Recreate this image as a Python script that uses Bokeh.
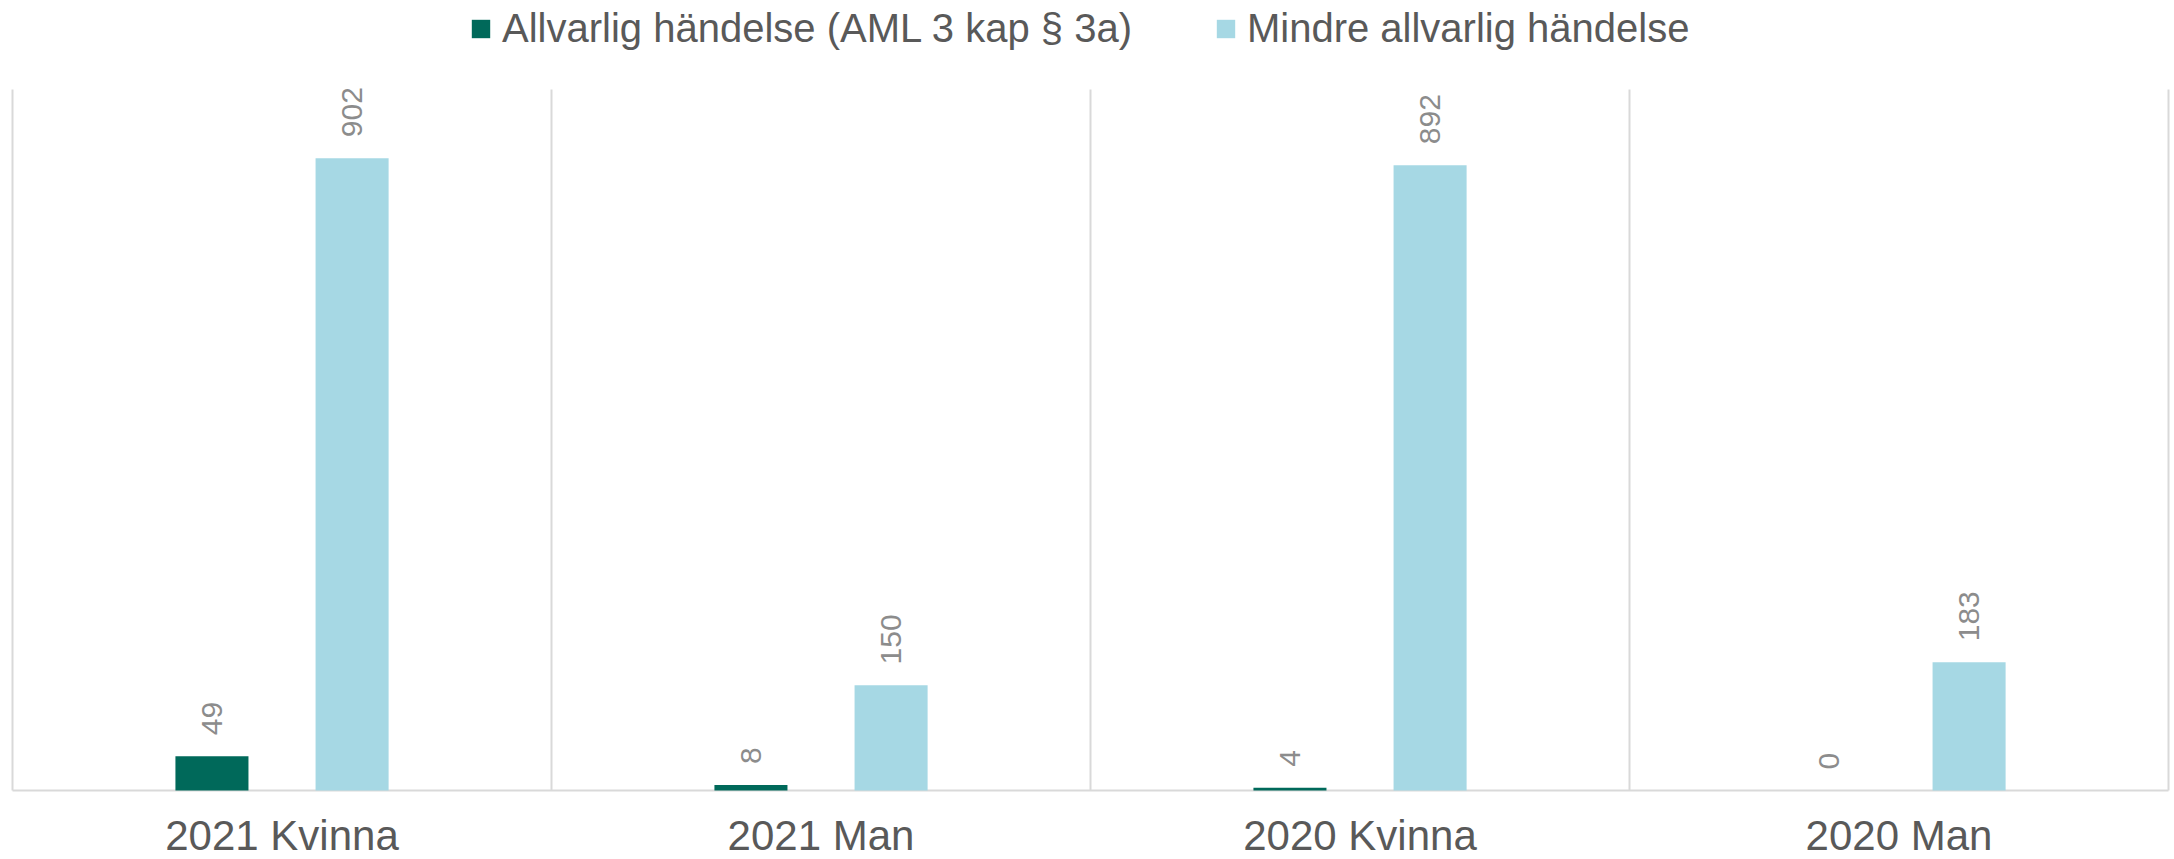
from bokeh.plotting import figure
from bokeh.models import (ColumnDataSource, FixedTicker, Legend, LegendItem, LabelSet, Range1d, Grid)
from bokeh.core.properties import value
from bokeh.transform import dodge
from bokeh.embed import file_html
from bokeh.resources import INLINE

categories = ["2021 Kvinna", "2021 Man", "2020 Kvinna", "2020 Man"]
series_names = ["Allvarlig händelse (AML 3 kap § 3a)", "Mindre allvarlig händelse"]
allvarlig = [49, 8, 4, 0]
mindre = [902, 150, 892, 183]
y_max = 1000

colors = ["#00695A", "#A6D8E4"]
FONT = "Liberation Sans"
GRID = "#D9D9D9"

n = len(categories)
x_pos = [i + 0.5 for i in range(n)]
src = ColumnDataSource(dict(
    x=x_pos,
    cat=categories,
    zero=[0] * n,
    a=allvarlig,
    m=mindre,
    a_lbl=[str(v) for v in allvarlig],
    m_lbl=[str(v) for v in mindre],
))

p = figure(width=2174, height=859, output_backend="svg", toolbar_location=None,
           x_range=Range1d(-0.0223, n + 0.0111), y_range=Range1d(-98.4, 1127),
           min_border_left=0, min_border_right=0, min_border_top=0, min_border_bottom=0)
p.xaxis.visible = False
p.yaxis.visible = False
p.xgrid.grid_line_color = None
p.ygrid.grid_line_color = None
p.outline_line_color = None

# category separators (stop at the top of the value axis) and baseline
vgrid = Grid(dimension=0, ticker=FixedTicker(ticks=list(range(n + 1))),
             grid_line_color=GRID, grid_line_width=2, cross_bounds=(0, y_max))
hgrid = Grid(dimension=1, ticker=FixedTicker(ticks=[0]),
             grid_line_color=GRID, grid_line_width=2, cross_bounds=(0, n))
p.add_layout(vgrid)
p.add_layout(hgrid)

off = 0.13
bw = 0.1355
r1 = p.vbar(x=dodge("x", -off), top="a", width=bw, source=src, color=colors[0], line_color=None)
r2 = p.vbar(x=dodge("x", off), top="m", width=bw, source=src, color=colors[1], line_color=None)

for col, lbl, o in (("a", "a_lbl", -off), ("m", "m_lbl", off)):
    ls = LabelSet(x=dodge("x", o), y=col, text=lbl, source=src, angle=1.5707963,
                  text_align="left", text_baseline="middle", y_offset=21,
                  text_font=value(FONT), text_font_size=value("30px"), text_color="#8C8C8C")
    p.add_layout(ls)

# category labels below the baseline
cats = LabelSet(x="x", y="zero", text="cat", source=src, text_align="center",
                text_baseline="top", y_offset=-21,
                text_font=value(FONT), text_font_size=value("42px"), text_color="#595959")
p.add_layout(cats)

legend = Legend(items=[LegendItem(label=series_names[0], renderers=[r1]),
                       LegendItem(label=series_names[1], renderers=[r2])],
                orientation="horizontal", location=(469, 808),
                glyph_width=23, glyph_height=23, label_standoff=10, spacing=82,
                padding=0, margin=0, border_line_color=None, background_fill_alpha=0,
                label_text_font=FONT, label_text_font_size="40px", label_text_color="#595959")
p.add_layout(legend, "center")

open("out.html", "w").write(file_html(p, INLINE))
